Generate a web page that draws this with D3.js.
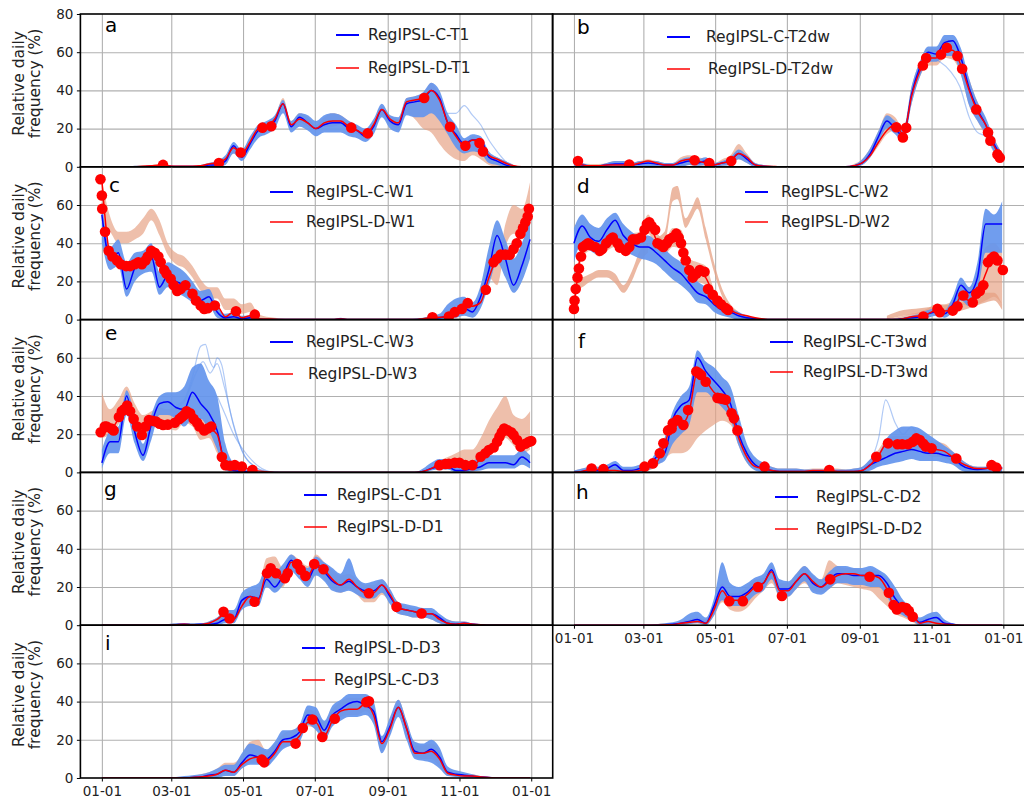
<!DOCTYPE html>
<html>
<head>
<meta charset="utf-8">
<script src="https://cdn.jsdelivr.net/npm/d3@7"></script>
<style>
  body { margin: 0; background: #fff; }
  svg { font-family: "DejaVu Sans", sans-serif; }
</style>
</head>
<body>
<div id="chart"></div>
<script>
// sampling grid (day of year) and axis ticks
const days = d3.range(0, 365, 7);
const tickDays = [0, 59, 120, 181, 243, 304, 365];
const tickLabels = ["01-01", "03-01", "05-01", "07-01", "09-01", "11-01", "01-01"];

// ---- a: T1
const aC   = [0,0,0,0,0,0,0.3, 0.5,0.3,0.2,0.2,0.2,0.3,1, 1,3,11,5,12,19,21, 24,33,21,26,23,20,22, 23,23,20,19,16,21,30, 24,22,33,34,35,40,36, 23,17,12,14,14,5,3, 1,0,0,0];
const aD   = [0,0,0,0,0,0.3,0.5, 0.8,0.5,0.3,0.3,0.3,0.5,1.5, 2,4,10,7,13,20,21, 25,33,22,25,23,20,23, 24,24,21,19,17,22,30, 25,23,34,35,36,40,35, 23,16,11,14,12,6,4, 2,0.5,0,0];
const aCLo = [0,0,0,0,0,0,0, 0,0,0,0,0,0,0, 0,1,7,3,9,15,17, 20,28,18,21,19,16,18, 18,18,16,15,13,17,26, 20,18,27,26,26,28,24, 17,10,7,8,7,2,1, 0,0,0,0];
const aCHi = [0,0,0,0,0.5,0.5,1, 1,1,0.5,0.5,0.5,1,2, 3,6,13,9,16,22,24, 27,35,24,28,27,24,27, 28,27,24,22,20,25,33, 27,26,36,37,39,44,40, 28,22,15,17,16,8,5, 3,1,0,0];
const aDLo = [0,0,0,0,0,0,0, 0,0,0,0,0,0,0.5, 1,2,7,5,12,18,19, 22,30,20,23,21,19,21, 21,22,19,17,15,20,27, 22,20,28,25,20,18,12, 7,4,3,6,4,1,0, 0,0,0,0];
const aDHi = [0,0,0,0,0.5,0.8,1, 1.5,1,0.5,0.5,0.5,1,2, 3,5,11,9,15,22,23, 26,36,24,28,26,22,26, 28,27,24,21,19,24,32, 27,25,36,37,38,44,37, 26,18,13,16,14,7,5, 3,1,0,0];
const aExtraC = [[[287,30],[294,28],[301,28],[308,32],[315,27],[322,22],[329,14],[336,8],[343,3],[350,0]]];
const aDots = [[52,1],[99.5,2],[118,7.5],[136.5,20.5],[144,21.2],[212,20.5],[226,17.5],[274,36],[296,21],[309,11],[321,12.5],[324,8]];

// ---- b: T2dw
const bC   = [2,1,0.5,0.5,1,1.5,1.5, 1,1.5,2,1.5,1,1,2, 3,2,3,1,2,3,7, 4,1,0.3,0,0,0,0, 0,0,0,0,0,0,0.5, 2,7,16,24,20,16,38, 52,60,59,65,66,57,41, 30,22,12,5];
const bD   = [3,1,0.5,0.5,1,1,1, 1,2,3,2,1,1,3, 4,3,2,1,2,3,7, 5,1,0.3,0.2,0,0,0, 0,0,0,0,0,0,0.5, 2,6,13,19,22,17,37, 50,57,57,61,61,53,40, 29,22,11,4];
const bCLo = [0,0,0,0,0,0,0, 0,0,0,0,0,0,0, 1,0.5,1,0,0.5,1,4, 2,0,0,0,0,0,0, 0,0,0,0,0,0,0, 1,5,13,20,17,13,33, 47,55,55,58,58,48,32, 24,17,8,2];
const bCHi = [4,2,1,1,2,3,3, 2,3,3,3,2,2,4, 5,4,5,2,3,5,9, 6,2,1,0.5,0,0,0, 0,0,0,0,0,0,1, 4,10,19,27,24,20,42, 55,63,63,69,69,62,46, 34,26,15,7];
const bDLo = [0,0,0,0,0,0,0, 0,0,0,0,0,0,0, 1,0.5,0.5,0,0.5,1,4, 2,0,0,0,0,0,0, 0,0,0,0,0,0,0, 1,5,11,17,19,14,33, 47,53,53,57,56,48,32, 24,16,8,2];
const bDHi = [4,2,1.5,1.5,2,3,3, 2,3,4,3,2,2,5, 6,5,4,2,4,6,12, 7,2,1,0.5,0,0,0, 0,0,0,0,0,0,1.5, 4,10,19,28,26,20,42, 55,62,62,67,66,60,46, 34,25,15,7];
const bExtraC = [[[294,50],[304,57],[311,55],[320,50],[328,42],[336,26],[343,18],[350,16],[357,8],[364,3]]];
const bDots = [[3.4,3],[47,1.2],[102.5,3.4],[115,2],[133.7,3],[274,20.7],[279.6,15.4],[282.4,20.4],[296.6,53],[299.4,57],[312,58.8],[317,62.3],[326,58],[330,51.3],[342,30],[352,18],[354,13.6],[360,6.5],[362,4.8]];

// ---- c: W1
const cC   = [55,32,35,16,27,31,33, 17,23,20,18,14,10,12, 4,1,1.5,0.5,1,0.3,0, 0,0,0,0,0,0,0, 0,0.5,0,0,0,0,0, 0,0,0,0,0,0.5,1, 2,4,6,4,12,26,44, 32,18,28,42];
const cD   = [73,34,30,27,29,28,35, 32,23,15,18,13.5,7.4,6, 7,1.5,4,1,2,0.5,0.3, 0.2,0,0,0,0,0,0, 0,0.3,0,0,0,0,0, 0,0,0,0,0.5,1,1.2, 1.6,4,7,7,9,22,32, 34,37,47,58];
const cCLo = [40,26,28,12,20,24,25, 13,17,14,12,9,6,7, 1,0,0,0,0,0,0, 0,0,0,0,0,0,0, 0,0,0,0,0,0,0, 0,0,0,0,0,0,0, 0.5,1,2,1,6,18,30, 22,14,20,32];
const cCHi = [62,38,42,30,35,36,40, 25,30,28,25,20,15,16, 7,3,4,2,2,1,0.5, 0.3,0,0,0,0,0,0, 0,1,0,0,0,0,0, 0,0,0,0.5,1,2,3, 8,11,12,9,18,38,52, 42,32,40,52];
const cDLo = [50,46,40,40,42,45,52, 44,34,29,27,22,15,11, 11,5,5,3,4,0.5,0, 0,0,0,0,0,0,0, 0,0,0,0,0,0,0, 0,0,0,0,0,0,0.5, 1,3,5,3,8,22,18, 38,45,42,52];
const cDHi = [73,54,46,46,48,53,58, 52,40,35,33,28,21,17, 17,11,11,8,9,3,1.5, 1,0.5,0,0,0,0,0, 0,0,0,0,0,0,0, 0,0,0,0,0.5,1,2, 3,6,10,8,14,32,28, 50,60,58,72];
const cDots = [[-1.2,73.5],[0,65],[0.3,58],[2.7,46],[5.8,36],[9,33],[13,31],[16,29],[20.6,28],[24,28],[28,29],[31,30],[34,29],[37,31],[39,33],[42,36],[45,35],[48,33],[50,30],[53,26],[55,24],[58.5,21.4],[61,18],[64,15],[67,16],[71,18],[77,13.5],[80,10],[84,7.4],[87,5.6],[90,6],[96,7.4],[114,4.4],[130,2.6],[281,1.2],[295,1.6],[300,3.9],[306,5.6],[311,8.6],[326.4,15.6],[333,30],[336,32],[339,34],[343,34],[346.7,34],[350,37],[352.7,40],[355.8,45],[358,48],[360,51],[362,54],[363,58]];

// ---- d: W2
const dC   = [40,49,43,41,47,52,44, 40,38,38,35,31,27,24, 19,14,12,8,5,4,2, 1,0.5,0,0,0,0,0, 0,0,0,0,0,0,0, 0,0,0,0,0,0.5,1, 1.5,3,4,3,8,18,14, 22,50,50,50];
const dD   = [5,37,40,36,40,43,38, 41,42,51,42,38,43,42, 26,26,22,13,8,5,3, 2,1,0.3,0,0,0,0, 0,0,0,0,0,0,0, 0,0,0,0,0,0.5,1.5, 2,3,5,4.5,5,12,10, 13,24,33,26];
const dCLo = [30,40,36,34,38,42,36, 34,32,31,29,25,21,18, 14,9,8,4,2,1,0, 0,0,0,0,0,0,0, 0,0,0,0,0,0,0, 0,0,0,0,0,0,0, 0.5,1,2,1,4,10,7, 14,35,35,35];
const dCHi = [48,55,50,48,53,56,50, 46,44,44,41,37,33,30, 25,20,17,12,8,6,4, 2,1,0.5,0,0,0,0, 0,0,0,0,0,0,0, 0,0,0,0,0.5,1,2, 3,5,6,5,12,22,17, 30,58,55,62];
const dDLo = [3,32,36,33,36,38,34, 37,38,45,38,34,38,37, 22,20,18,9,5,3,1, 0.5,0,0,0,0,0,0, 0,0,0,0,0,0,0, 0,0,0,0,0,0.5,1, 1.5,2,3,4,5,8,7, 8,10,12,8];
const dDHi = [10,40,44,40,44,46,42, 45,46,55,46,42,48,47, 32,30,28,16,10,6,3, 1.5,0.5,0,0,0,0,0, 0,0,0,0,0,0,0, 0,0,0,0,1,2,3, 4,6,8,8,10,16,14, 25,38,40,35];
const dExtraD = [
  [[0,15,20],[7,17,22],[14,20,24],[21,22,26],[28,22,26],[35,19,24],[42,14,18],[49,20,25],[56,30,36],[63,35,40]],
  [[70,38,43],[77,40,46],[84,62,69],[88,63,70],[95,48,53],[100,53,58],[105,58,64],[112,42,48],[119,25,30],[126,12,16],[133,5,8],[140,2,4],[147,0,1]],
  [[266,0,2],[280,2,5],[294,3,6],[308,4,7],[322,4,8],[336,6,10],[350,9,14],[357,10,14],[364,5,8]]
];
const dDots = [[0,5.6],[0.5,10],[1.5,16],[3,22],[4.2,26.7],[6,33],[7.6,38],[10,39],[12,40],[14,39],[18,38],[22,36],[24,37],[27.5,40],[31,42],[33,43],[37,40],[39,37.7],[44,36],[47,38],[50,42],[53,42],[57,43],[60,47],[62,50],[64,51],[66,49],[69,47],[71,40],[74,39],[76,38],[79,40],[81,42],[84,43],[87,45],[89,43],[91,40],[93,35],[95,31],[98,26],[101,22],[104,24],[107,26],[111,25],[114,16],[118,13],[122,10],[125,8],[129,6],[131,5],[297,1.6],[309,5.6],[311,3.9],[322,4.7],[326,7],[331,12.6],[339,9],[342,13.5],[345,15],[348,18],[352,30],[355,32],[357,33],[360,31],[364.6,26]];

// ---- e: W3
const eC   = [5,16,16,40,21,9,25, 36,37,34,33,42,36,31, 22,4,1,0.5,0.3,0,0, 0,0,0,0,0,0,0, 0,0,0,0,0,0,0, 0,0,0,0,0.5,2,3, 3,1,1,2,3,5,5, 5,4,8,5];
const eD   = [21,22,28,35,27,20,27, 25,25,26,30,30,24,23, 20,4,3.5,3,1.5,0.8,0.3, 0,0,0,0,0,0,0, 0,0,0,0,0,0,0, 0,0,0,0,0.5,2,4, 4,5,4.5,3.5,7,11,16, 23,20,14,16];
const eCLo = [2,10,10,30,15,6,17, 30,30,28,24,28,28,22, 12,1,0,0,0,0,0, 0,0,0,0,0,0,0, 0,0,0,0,0,0,0, 0,0,0,0,0,1,1.5, 1.5,0,0,0.5,1,2,2, 2,2,4,2];
const eCHi = [12,22,24,43,30,15,30, 40,42,42,45,55,57,48, 40,15,5,3,1,0.5,0, 0,0,0,0,0,0,0, 0,0,0,0,0,0,0, 0,0,0,0,2,5,7, 7,5,5,6,8,9,9, 9,9,12,9];
const eDLo = [18,20,25,33,26,18,23, 24,23,22,26,24,17,18, 10,2,1,0.5,0,0,0, 0,0,0,0,0,0,0, 0,0,0,0,0,0,0, 0,0,0,0,0.5,1.5,2.5, 3,4,4,4,7,10,14, 18,14,10,12];
const eDHi = [42,33,38,45,36,30,32, 34,33,34,34,33,28,27, 22,6,4,2,1,0.5,0, 0,0,0,0,0,0,0, 0,0,0,0,0,0,0, 0,0,0,0,1,3,6, 8,10,12,12,18,27,34, 40,30,28,32];
const eExtraC = [
  [[63,35],[70,38],[77,50],[84,66],[88,67],[92,58],[95,55],[98,60],[102,56],[108,35],[115,18],[122,8],[130,3],[140,0.5],[150,0]],
  [[63,34],[70,37],[80,52],[86,58],[92,52],[98,57],[104,45],[112,25],[120,10],[130,3],[140,0]],
  [[98,40],[105,30],[112,20],[120,12],[128,6],[136,2],[145,0]]
];
const eDots = [[-1,21],[2.5,24],[4,24],[8,23],[10,22],[14.5,29],[17,32],[19,33],[21.5,35],[24,32],[27,28],[30,24],[34,19.6],[37,24],[40,27.4],[43,27],[46,26.6],[49,25.5],[52,24.8],[56,25],[62,26],[66,28],[68,29],[70,30],[72,32],[75,31],[78,28],[81,26],[83,24],[87,22],[90,23],[93,24],[102,8],[105,3.8],[109,3.5],[113,3.8],[119,3],[128,1.2],[287,3.8],[292,4.4],[295,4.5],[300,5],[304,5],[309,3.8],[315,3.8],[322,8.2],[326,10],[329,11.7],[333,13],[336,16],[338,18.7],[340,21],[342,23],[345,22],[348,21],[350,19.6],[353,17],[356,13.5],[360,15],[363,16],[365,16.4]];

// ---- f: T3wd
const fC   = [0,0.5,1,1,2,4,1, 1,2,3,8,10,28,35, 38,60,53,48,43,36,20, 10,4,2,1,0.5,0.5,0.5, 0.5,0.5,0.5,0.5,0.5,0.5,0.5, 1,4,6,8,10,11,12, 11,10,10,9,8,4,2, 1.5,2,3,2];
const fD   = [0,0.5,1.5,1.5,1,1,0.5, 0.5,1,3,5,15,25,25, 32,53,48,42,39,32,18, 8,3,2,1,0.5,0.5,0.5, 0.5,1,1,1,0.5,0.5,0.5, 1,4,9,15,15,15,15, 17,13,12,11,8,5,3, 2,2,3,2];
const fCLo = [0,0,0,0,0,1,0, 0,0,1,4,6,15,20, 25,42,42,38,34,28,14, 5,1,0,0,0,0,0, 0,0,0,0,0,0,0, 0,1,3,4,5,6,7, 6,6,6,5,4,1,0, 0,0,0.5,0];
const fCHi = [1,2,3,3,4,6,3, 3,4,5,11,18,32,40, 45,64,58,55,50,45,30, 15,8,5,3,2,2,2, 1.5,1.5,1.5,1.5,1.5,1.5,2, 3,7,10,18,22,24,24, 23,20,17,14,11,7,4, 3,3,4,3];
const fDLo = [0,0,0.5,0.5,0.5,0.5,0, 0,0.5,1,3,7,10,10, 12,18,22,25,27,25,14, 5,1.5,1,0.5,0,0,0, 0,0,0,0,0,0,0, 0.5,2,5,9,10,10,11, 12,9,8,8,5,3,1.5, 1,1,1.5,1];
const fDHi = [1,2,3,2.5,3,3,2, 2,3,5,8,18,28,28, 38,56,52,46,42,34,22, 12,6,4,3,2,2,2, 1.5,2,2,2,2,1.5,2, 3,7,12,18,19,19,19, 20,17,16,15,11,7,4, 3,3,4,3];
const fExtraC = [[[245,2],[252,6],[259,18],[265,38],[273,26],[280,20],[287,24],[294,16],[301,12],[308,10],[315,8],[322,6],[329,3]]];
const fDots = [[15,2],[25,1.7],[60,3],[67,4.7],[73,10],[76,15.2],[80,22],[83,23],[84,25.7],[88,27.4],[93,24.8],[97,32.7],[104,52.8],[106,52],[108,51],[112,47.5],[122,39],[124,38.8],[126,38.5],[129,38],[134,31],[136,28.3],[139,22],[162,3],[217,1.2],[257,8.2],[267,15.2],[275,14.7],[279,14.7],[284,14.7],[288,16],[291,17.8],[294,17],[297,15],[299,13.5],[304,12.6],[325,7.3],[355,3.8],[359,2.6]];

// ---- g: D1
const gC   = [0,0,0,0,0,0,0, 0,0,0.3,0.5,0.3,0.5,0.5, 1,3,3,13,15,14,24, 20,26,34,28,24,31,28, 23,21,23,20,18,18,21, 15,9,8,7,6,6,4, 1,0.5,1,0.5,0.2,0,0, 0,0,0,0];
const gD   = [0,0,0,0,0,0,0, 0,0,0.2,0.5,0.2,0.3,1, 3,6,3,10,15,13,27, 26,24,33,31,26,32,29, 24,21,24,20,17,17,21, 16,9,8,7,6,6,3, 1,0.5,1,0.5,0.2,0,0, 0,0,0,0];
const gCLo = [0,0,0,0,0,0,0, 0,0,0,0,0,0,0, 0,1,1,8,10,10,20, 17,21,28,24,20,26,23, 18,17,18,16,14,14,17, 11,6,5,4,4,3,1, 0,0,0,0,0,0,0, 0,0,0,0];
const gCHi = [0,0,0,0,0,0,0, 0,0.5,1,1,1,1,2, 4,8,8,17,20,22,30, 28,32,37,33,30,36,33, 30,27,35,25,22,23,24, 19,12,11,10,9,9,6, 3,2,2,1,0.5,0,0, 0,0,0,0];
const gDLo = [0,0,0,0,0,0,0, 0,0,0,0,0,0,0, 1,3,2,9,12,12,22, 20,20,29,26,22,27,24, 19,17,19,16,12,12,16, 12,6,5,4,4,3,1, 0,0,0,0,0,0,0, 0,0,0,0];
const gDHi = [0,0,0,0,0,0,0, 0,0.5,1,1,1,1,2, 4,8,7,14,18,20,35, 36,30,37,34,31,37,33, 29,26,27,24,21,21,24, 18,12,10,9,9,8,5, 3,2,2,1,0.5,0,0, 0,0,0,0];
const gDots = [[103.4,7],[108.6,3.5],[129.8,12.3],[140.4,27.2],[143.5,29.8],[148,27.2],[155.6,24.6],[158,27.2],[166,32],[169,29],[173,25.8],[180.5,32],[188.4,29.3],[227,16.7],[250.5,9.6],[271.8,6.1]];

// ---- h: D2
const hC   = [0,0,0,0,0,0,0, 0,0,0,0,0.3,0.5,1, 2,3,1,10,20,15,15, 17,21,22,29,19,19,23, 27,22,20,24,27,27,26, 26,26,26,22,14,9,6, 1.5,3,4,1,0.5,0,0, 0,0,0,0];
const hD   = [0,0,0,0,0,0,0, 0,0,0,0,0.2,0.3,1, 1.5,2,1,8,18,13,13, 16,20,22,28,18,18,23, 27,23,20,23,26,27,27, 26,26,25,19,9,8,6, 1,2,1,0.5,0.3,0,0, 0,0,0,0];
const hCLo = [0,0,0,0,0,0,0, 0,0,0,0,0,0,0, 0.5,1,0,5,13,10,10, 12,16,18,24,15,15,19, 23,17,16,19,22,22,21, 21,20,20,15,8,5,3, 0,0.5,1,0,0,0,0, 0,0,0,0];
const hCHi = [0,0,0,0,0,0,0, 0,0,0,0.5,1,1.5,3, 6,7,4,14,33,22,20, 22,25,27,33,24,23,27, 31,27,24,28,31,31,30, 30,31,29,26,20,13,9, 4,6,7,3,1,0.3,0, 0,0,0,0];
const hDLo = [0,0,0,0,0,0,0, 0,0,0,0,0,0,0, 0.5,1,0,5,12,8,7, 9,14,18,22,15,15,19, 22,18,17,19,22,21,20, 19,18,14,10,6,4,2, 0,0,0,0,0,0,0, 0,0,0,0];
const hDHi = [0,0,0,0,0,0,0, 0,0,0,0.5,1,1,2, 3,4,3,11,22,17,17, 20,24,25,31,22,22,27, 31,26,24,34,31,30,30, 29,29,28,24,15,12,8, 3,4,3,1,0.5,0,0, 0,0,0,0];
const hDots = [[132,12.6],[143.6,12.6],[156.4,20],[176.8,15.3],[217.8,24],[251.3,25.4],[267.7,17],[271.7,10.5],[274.5,8.2],[279,9.5],[282.4,9],[284.7,7.5],[288,4.4]];

// ---- i: D3
const iC   = [0,0,0,0,0,0,0, 0,0,0,0,0.3,0.5,1.5, 2,4,3,8,12,11,10, 14,20,21,24,33,32,25, 33,36,39,40,38,35,19, 27,37,26,14,13,15,11, 3,2,1.5,1,0.5,0.3,0, 0,0,0,0];
const iD   = [0,0,0,0,0,0,0, 0,0,0,0,0.3,0.5,1, 2,4,3,7,10,11,9, 13,19,19,22,29,29,22, 30,35,36,36,39,33,18, 26,37,26,13,13,14,10, 2.5,1.5,1,1,0.5,0.2,0, 0,0,0,0];
const iCLo = [0,0,0,0,0,0,0, 0,0,0,0,0,0,0, 0,1,1,5,7,7,6, 10,15,17,19,28,25,20, 27,30,32,32,33,28,13, 22,32,20,10,9,8,5, 1,0.5,0,0,0,0,0, 0,0,0,0];
const iCHi = [0,0,0,0,0,0,0, 0,0,0.5,1,1.5,2,3, 5,7,7,13,18,17,15, 19,25,25,28,38,37,30, 38,41,44,44,44,40,22, 32,41,30,19,18,20,16, 6,4,3,2,1,0.5,0.3, 0,0,0,0];
const iDLo = [0,0,0,0,0,0,0, 0,0,0,0,0,0,0, 0.5,2,1.5,5,8,8,7, 11,16,17,20,27,26,19, 28,32,33,33,35,30,14, 23,34,22,11,10,10,6, 1.5,1,0.5,0.5,0,0,0, 0,0,0,0];
const iDHi = [0,0,0,0,0,0,0, 0,0,0.3,0.5,1,2,3, 5,8,8,12,19,20,14, 18,23,25,27,36,34,29, 36,40,42,42,42,38,21, 30,41,30,17,17,18,14, 4,3,2,2,1,0.5,0.3, 0,0,0,0];
const iDots = [[135.9,9.6],[138,8.2],[164.7,18],[170.8,26.2],[179,30.6],[187.4,21.5],[198,31],[224.8,39.7],[227,40.2]];

// ---- panel layout
const panels = [
  {key:"a", col:0, row:0, C:aC, D:aD, cLo:aCLo, cHi:aCHi, dLo:aDLo, dHi:aDHi, extraC:aExtraC, extraD:[], dots:aDots,
   legend:["RegIPSL-C-T1","RegIPSL-D-T1"], lx:336, tx:[368,368], ly:[35,68], letter:[105,32]},
  {key:"b", col:1, row:0, C:bC, D:bD, cLo:bCLo, cHi:bCHi, dLo:bDLo, dHi:bDHi, extraC:bExtraC, extraD:[], dots:bDots,
   legend:["RegIPSL-C-T2dw","RegIPSL-D-T2dw"], lx:667, tx:[706,708], ly:[37,69], letter:[577,34]},
  {key:"c", col:0, row:1, C:cC, D:cD, cLo:cCLo, cHi:cCHi, dLo:cDLo, dHi:cDHi, extraC:[], extraD:[], dots:cDots,
   legend:["RegIPSL-C-W1","RegIPSL-D-W1"], lx:270, tx:[306,306], ly:[192,222], letter:[109,192]},
  {key:"d", col:1, row:1, C:dC, D:dD, cLo:dCLo, cHi:dCHi, dLo:dDLo, dHi:dDHi, extraC:[], extraD:dExtraD, dots:dDots,
   legend:["RegIPSL-C-W2","RegIPSL-D-W2"], lx:745, tx:[781,781], ly:[192,222], letter:[577,193]},
  {key:"e", col:0, row:2, C:eC, D:eD, cLo:eCLo, cHi:eCHi, dLo:eDLo, dHi:eDHi, extraC:eExtraC, extraD:[], dots:eDots,
   legend:["RegIPSL-C-W3","RegIPSL-D-W3"], lx:270, tx:[306,308], ly:[342,374], letter:[105,340]},
  {key:"f", col:1, row:2, C:fC, D:fD, cLo:fCLo, cHi:fCHi, dLo:fDLo, dHi:fDHi, extraC:fExtraC, extraD:[], dots:fDots,
   legend:["RegIPSL-C-T3wd","RegIPSL-D-T3wd"], lx:770, tx:[803,803], ly:[342,372], letter:[578,348]},
  {key:"g", col:0, row:3, C:gC, D:gD, cLo:gCLo, cHi:gCHi, dLo:gDLo, dHi:gDHi, extraC:[], extraD:[], dots:gDots,
   legend:["RegIPSL-C-D1","RegIPSL-D-D1"], lx:304, tx:[337,337], ly:[495,527], letter:[104,496]},
  {key:"h", col:1, row:3, C:hC, D:hD, cLo:hCLo, cHi:hCHi, dLo:hDLo, dHi:hDHi, extraC:[], extraD:[], dots:hDots,
   legend:["RegIPSL-C-D2","RegIPSL-D-D2"], lx:775, tx:[816,816], ly:[497,529], letter:[576,499], xLabels:true},
  {key:"i", col:0, row:4, C:iC, D:iD, cLo:iCLo, cHi:iCHi, dLo:iDLo, dHi:iDHi, extraC:[], extraD:[], dots:iDots,
   legend:["RegIPSL-D-D3","RegIPSL-C-D3"], lx:302, tx:[334,334], ly:[648,680], letter:[105,650], xLabels:true}
];

const W = 1024, H = 800;
const colX = [80.4, 552.5], panelW = 472.3;
const rowTop = 14, panelH = 152.8;

const svg = d3.select("#chart").append("svg")
    .attr("width", W).attr("height", H);

panels.forEach(p => {
    const x0 = colX[p.col], y0 = rowTop + p.row * panelH;
    const x = d3.scaleLinear().domain([-18.25, 383.25]).range([x0, x0 + panelW]);
    const y = d3.scaleLinear().domain([0, 80]).range([y0 + panelH, y0]);
    const g = svg.append("g").attr("class", "panel panel_" + p.key);

    g.append("clipPath").attr("id", "clip_" + p.key)
        .append("rect").attr("x", x0).attr("y", y0).attr("width", panelW).attr("height", panelH);

    // gridlines
    g.append("g").attr("class", "grid_x")
        .attr("transform", `translate(0, ${y0 + panelH})`)
        .call(d3.axisBottom(x).tickValues(tickDays).tickSize(-panelH).tickFormat(""))
        .call(s => s.select(".domain").remove())
        .selectAll("line").attr("stroke", "#b0b0b0").attr("stroke-width", 1.1);
    g.append("g").attr("class", "grid_y")
        .attr("transform", `translate(${x0}, 0)`)
        .call(d3.axisLeft(y).tickValues([20, 40, 60]).tickSize(-panelW).tickFormat(""))
        .call(s => s.select(".domain").remove())
        .selectAll("line").attr("stroke", "#b0b0b0").attr("stroke-width", 1.1);

    const plot = g.append("g").attr("clip-path", `url(#clip_${p.key})`);
    const band = (lo, hi) => d3.area()
        .x((v, i) => x(days[i])).y0((v, i) => y(lo[i])).y1(v => y(v))
        .curve(d3.curveMonotoneX)(hi);
    const line = d3.line().x((v, i) => x(days[i])).y(v => y(v)).curve(d3.curveMonotoneX);

    // D ensemble (under), extra D bundles, C ensemble
    plot.append("path").attr("d", band(p.dLo, p.dHi))
        .attr("fill", "#e6a083").attr("fill-opacity", 0.68);
    p.extraD.forEach(b => {
        plot.append("path")
            .attr("d", d3.area().x(d => x(d[0])).y0(d => y(d[1])).y1(d => y(d[2]))
                .curve(d3.curveMonotoneX)(b))
            .attr("fill", "#e6a083").attr("fill-opacity", 0.75);
    });
    plot.append("path").attr("d", band(p.cLo, p.cHi))
        .attr("fill", "#6495ed").attr("fill-opacity", 0.92);
    p.extraC.forEach(l => {
        plot.append("path")
            .attr("d", d3.line().x(d => x(d[0])).y(d => y(d[1])).curve(d3.curveMonotoneX)(l))
            .attr("fill", "none").attr("stroke", "#6495ed").attr("stroke-opacity", 0.5).attr("stroke-width", 1.2);
    });

    // ensemble means
    plot.append("path").attr("d", line(p.C))
        .attr("fill", "none").attr("stroke", "#0000ff").attr("stroke-width", 1.5);
    plot.append("path").attr("d", line(p.D))
        .attr("fill", "none").attr("stroke", "#ff0000").attr("stroke-width", 1.5);

    // markers
    plot.append("g").attr("class", "dots").selectAll("circle").data(p.dots).join("circle")
        .attr("cx", d => x(d[0])).attr("cy", d => y(d[1])).attr("r", 5.3)
        .attr("fill", "#ff0000");

    // frame
    g.append("rect").attr("x", x0).attr("y", y0).attr("width", panelW).attr("height", panelH)
        .attr("fill", "none").attr("stroke", "#000").attr("stroke-width", 1.6);

    // y axis labels, left column only
    if (p.col === 0) {
        const yAxis = g.append("g").attr("class", "axis_y")
            .attr("transform", `translate(${x0}, 0)`)
            .call(d3.axisLeft(y).tickValues(p.row === 0 ? [0, 20, 40, 60, 80] : [0, 20, 40, 60])
                .tickSize(3.5).tickPadding(3.5));
        yAxis.select(".domain").remove();
        yAxis.selectAll("text").attr("font-size", 13.5).attr("font-family", "DejaVu Sans").attr("fill", "#222");
        yAxis.selectAll("line").attr("stroke", "#000");

        const cy = y0 + panelH / 2 - 7;
        g.append("text").attr("transform", `translate(24, ${cy}) rotate(-90)`)
            .attr("text-anchor", "middle").attr("font-size", 15.5).attr("fill", "#222")
            .text("Relative daily");
        g.append("text").attr("transform", `translate(40, ${cy}) rotate(-90)`)
            .attr("text-anchor", "middle").attr("font-size", 15.5).attr("fill", "#222")
            .text("frequency (%)");
    }

    // x axis labels on the bottom panel of each column
    if (p.xLabels) {
        const xAxis = g.append("g").attr("class", "axis_x")
            .attr("transform", `translate(0, ${y0 + panelH})`)
            .call(d3.axisBottom(x).tickValues(tickDays).tickFormat((d, i) => tickLabels[i])
                .tickSize(3.5).tickPadding(5));
        xAxis.select(".domain").remove();
        xAxis.selectAll("text").attr("font-size", 13.5).attr("font-family", "DejaVu Sans").attr("fill", "#222");
        xAxis.selectAll("line").attr("stroke", "#000");
    }

    // legend
    const legendColors = [["#0000ff", 1], ["#ff0000", 0.75]];
    p.legend.forEach((label, k) => {
        g.append("line")
            .attr("x1", p.lx).attr("x2", p.lx + 23).attr("y1", p.ly[k]).attr("y2", p.ly[k])
            .attr("stroke", legendColors[k][0]).attr("stroke-opacity", legendColors[k][1])
            .attr("stroke-width", 2);
        g.append("text")
            .attr("x", p.tx[k]).attr("y", p.ly[k]).attr("dy", "0.35em")
            .attr("font-size", 15.5).attr("fill", "#222")
            .text(label);
    });

    // panel letter
    g.append("text").attr("x", p.letter[0]).attr("y", p.letter[1])
        .attr("font-size", 20).attr("fill", "#000")
        .text(p.key);
});
</script>
</body>
</html>
